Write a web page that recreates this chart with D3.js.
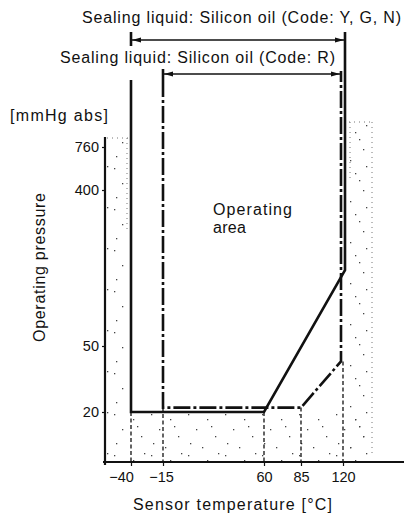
<!DOCTYPE html>
<html>
<head>
<meta charset="utf-8">
<script src="https://cdn.jsdelivr.net/npm/d3@7"></script>
<style>
  html, body { margin: 0; padding: 0; background: #fff; }
  svg { display: block; }
  text { font-family: "Liberation Sans", Arial, sans-serif; fill: #111; }
</style>
</head>
<body>
<svg id="chart" width="404" height="516"></svg>
<script>
// ---- data ----
const tempTicks = [-40, -15, 60, 85, 120];
const tempTickLabels = ["\u221240", "\u221215", "60", "85", "120"];
const pressTicks = [20, 50, 400, 760];
const pressTickLabels = ["20", "50", "400", "760"];
// Boundary of operating area, sealing liquid code Y, G, N (solid)
const codeYGN = [
  { t: -40, p: 20 },
  { t: 60, p: 20 },
  { t: 120, p: 220 }
];
// Boundary of operating area, sealing liquid code R (dash-dot)
const codeR = [
  { t: -15, p: 22 },
  { t: 85, p: 22 },
  { t: 120, p: 43 }
];

// ---- layout ----
const svg = d3.select("#chart");
const axisY0 = 462, axisYTop = 137, axisX0 = 105;
const bracket1Y = 40, bracket2Y = 74;

// schematic (non-uniform) scales, as in the original drawing
const x = d3.scaleLinear()
  .domain([-60, -40, -15, 60, 85, 120, 160])
  .range([axisX0, 131, 163, 264, 301, 343, 404]);
const y = d3.scaleLinear()
  .domain([0, 20, 50, 400, 760])
  .range([axisY0, 412, 346, 190, 147]);

// ---- stipple pattern ----
const defs = svg.append("defs");
const pat = defs.append("pattern").attr("id", "stip")
  .attr("patternUnits", "userSpaceOnUse").attr("width", 37).attr("height", 41);
[[3,4],[22,9],[11,19],[30,26],[5,33],[17,37],[33,2],[26,16]].forEach(d => {
  pat.append("rect").attr("x", d[0]).attr("y", d[1]).attr("width", 1.3).attr("height", 1.3).attr("fill", "#444");
});

// stippled non-operating zones
const g = svg.append("g");
g.append("rect").attr("x", axisX0 + 2).attr("y", axisYTop + 1)
  .attr("width", x(-40) - axisX0 - 5).attr("height", axisY0 - axisYTop - 1)
  .attr("fill", "url(#stip)");
g.append("rect").attr("x", x(-40) + 2).attr("y", y(20) + 2)
  .attr("width", 372 - x(-40) - 2).attr("height", axisY0 - y(20) - 3)
  .attr("fill", "url(#stip)");
g.append("rect").attr("x", 349).attr("y", 122)
  .attr("width", 23).attr("height", 330)
  .attr("fill", "url(#stip)");
// dotted borders of zones
const dotted = (x1, y1, x2, y2) => g.append("line")
  .attr("x1", x1).attr("y1", y1).attr("x2", x2).attr("y2", y2)
  .attr("stroke", "#777").attr("stroke-width", 1).attr("stroke-dasharray", "1,4");
dotted(axisX0 + 2, axisYTop + 1, x(-40) - 3, axisYTop + 1);
dotted(x(-40) - 4, axisYTop + 1, x(-40) - 4, 230);
dotted(349, 122, 372, 122);
dotted(372, 122, 372, 455);
dotted(350, 122, 350, 180);

// ---- axes ----
const yAxis = d3.axisLeft(y).tickValues(pressTicks)
  .tickFormat((d, i) => pressTickLabels[i]).tickSize(3).tickPadding(3);
const gy = svg.append("g").attr("transform", `translate(${axisX0},0)`).call(yAxis);
gy.select(".domain").remove();
gy.selectAll(".tick line").attr("stroke", "#111").attr("stroke-width", 1.2);
gy.selectAll(".tick text").attr("font-size", 14.5).attr("fill", "#111")
  .style("font-family", "'Liberation Sans', Arial, sans-serif");
svg.append("line").attr("x1", axisX0).attr("x2", axisX0)
  .attr("y1", axisYTop).attr("y2", axisY0 + 3)
  .attr("stroke", "#111").attr("stroke-width", 2.2);

const xAxis = d3.axisBottom(x).tickValues(tempTicks)
  .tickFormat((d, i) => tempTickLabels[i]).tickSize(4).tickPadding(6);
const gx = svg.append("g").attr("transform", `translate(0,${axisY0})`).call(xAxis);
gx.select(".domain").remove();
gx.selectAll(".tick line").attr("stroke", "#111").attr("stroke-width", 1.2);
gx.selectAll(".tick text").attr("font-size", 14.5).attr("fill", "#111")
  .style("font-family", "'Liberation Sans', Arial, sans-serif")
  .attr("dx", d => d === -40 ? -10 : (d === -15 ? -2 : 0));
svg.append("line").attr("x1", axisX0 - 2).attr("x2", 404)
  .attr("y1", axisY0).attr("y2", axisY0)
  .attr("stroke", "#111").attr("stroke-width", 2.2);

// ---- drop lines ----
const drops = [
  { t: -40, p: 20 }, { t: -15, p: 22 }, { t: 60, p: 20 }, { t: 85, p: 22 }, { t: 120, p: 43 }
];
svg.append("g").selectAll("line").data(drops).join("line")
  .attr("x1", d => x(d.t)).attr("x2", d => x(d.t))
  .attr("y1", d => y(d.p)).attr("y2", axisY0)
  .attr("stroke", "#111").attr("stroke-width", 1.3).attr("stroke-dasharray", "4,2.5");

// ---- boundary lines ----
const line = d3.line().x(d => d[0]).y(d => d[1]);
const ygnPts = [[x(codeYGN[0].t), 80]]
  .concat(codeYGN.map(d => [x(d.t) + (d.t === 120 ? 2 : 0), y(d.p)]))
  .concat([[x(120) + 2, bracket1Y - 8]]);
svg.append("path").attr("d", line(ygnPts)).attr("fill", "none")
  .attr("stroke", "#111").attr("stroke-width", 2.6).attr("stroke-linejoin", "miter");
// top stub of the left solid boundary (interrupted by the label)
svg.append("line").attr("x1", x(-40)).attr("x2", x(-40))
  .attr("y1", bracket1Y - 8).attr("y2", bracket1Y + 6)
  .attr("stroke", "#111").attr("stroke-width", 2.6);

const rPts = [[x(codeR[0].t), bracket2Y + 6]]
  .concat(codeR.map(d => [x(d.t) - (d.t === 120 ? 2 : 0), y(d.p)]))
  .concat([[x(120) - 2, bracket2Y - 3]]);
svg.append("path").attr("d", line(rPts)).attr("fill", "none")
  .attr("stroke", "#111").attr("stroke-width", 2.6).attr("stroke-dasharray", "17,3,3,3");

// ---- brackets with arrows ----
function bracket(x1, x2, yy) {
  svg.append("line").attr("x1", x1).attr("x2", x2).attr("y1", yy).attr("y2", yy)
    .attr("stroke", "#111").attr("stroke-width", 1.3);
  svg.append("path").attr("d", `M${x1 + 1},${yy} L${x1 + 10},${yy - 2.5} L${x1 + 10},${yy + 2.5}Z`).attr("fill", "#111");
  svg.append("path").attr("d", `M${x2 - 1},${yy} L${x2 - 10},${yy - 2.5} L${x2 - 10},${yy + 2.5}Z`).attr("fill", "#111");
}
bracket(x(-40), x(120) + 2, bracket1Y);
bracket(x(-15), x(120) - 2, bracket2Y);
svg.append("line").attr("x1", x(-15)).attr("x2", x(-15)).attr("y1", bracket2Y - 5).attr("y2", bracket2Y + 6)
  .attr("stroke", "#111").attr("stroke-width", 2.6);

// ---- texts ----
const txt = (s, tx, ty, len, opts = {}) => {
  const t = svg.append("text").text(s)
    .attr("x", tx).attr("y", ty).attr("font-size", opts.size || 16)
    .attr("text-anchor", opts.anchor || "start");
  if (len) t.attr("textLength", len).attr("lengthAdjust", "spacing");
  return t;
};
txt("Sealing liquid: Silicon oil (Code: Y, G, N)", 82, 23, 319);
txt("Sealing liquid: Silicon oil (Code: R)", 60, 63, 275);
txt("[mmHg abs]", 10, 121, 98);
txt("Operating", 213, 215, 79);
txt("area", 213, 233, 33);
txt("Sensor temperature [\u00B0C]", 133, 510, 199);
svg.append("text").text("Operating pressure")
  .attr("transform", "translate(45,342) rotate(-90)")
  .attr("font-size", 16).attr("textLength", 149).attr("lengthAdjust", "spacing");
</script>
</body>
</html>
